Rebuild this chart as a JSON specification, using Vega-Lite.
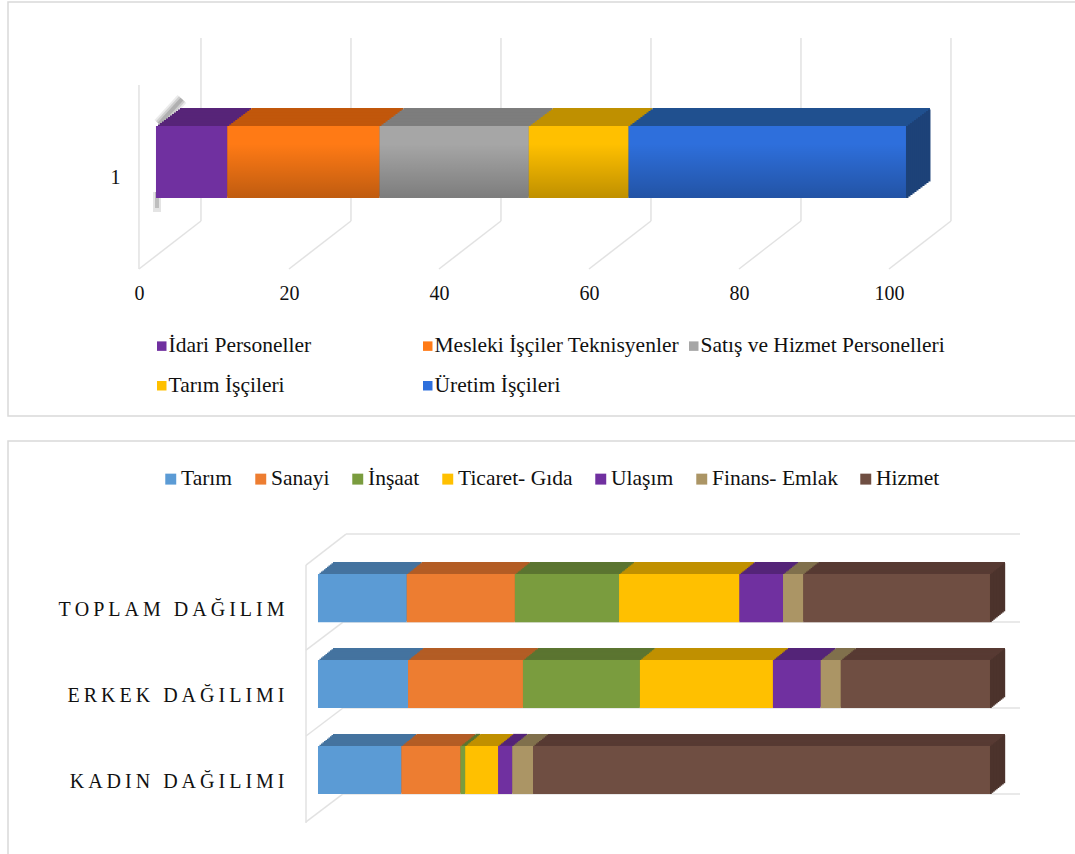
{"$schema":"https://vega.github.io/schema/vega-lite/v6.json","padding":{"left":7,"top":1,"right":0,"bottom":0},"spacing":23,"background":"white","resolve":{"scale":{"color":"independent","fill":"independent"},"legend":{"color":"independent"}},"config":{"view":{"stroke":"#d9d9d9","strokeWidth":1.5},"font":"Liberation Serif","axis":{"labelFont":"Liberation Serif","labelColor":"#111","domain":false,"ticks":false,"grid":false,"title":null}},
"datasets":{"t1":[{"tick":0},{"tick":20},{"tick":40},{"tick":60},{"tick":80},{"tick":100}],
"d1":[{"cat":"1","sector":"İdari Personeller","value":9.5},{"cat":"1","sector":"Mesleki İşçiler Teknisyenler","value":20.3},{"cat":"1","sector":"Satış ve Hizmet Personelleri","value":19.9},{"cat":"1","sector":"Tarım İşçileri","value":13.3},{"cat":"1","sector":"Üretim İşçileri","value":37.0}],
"d2":[{"g":"TOPLAM DAĞILIM","sector":"Tarım","value":13.2},{"g":"TOPLAM DAĞILIM","sector":"Sanayi","value":16.1},{"g":"TOPLAM DAĞILIM","sector":"İnşaat","value":15.5},{"g":"TOPLAM DAĞILIM","sector":"Ticaret- Gıda","value":17.9},{"g":"TOPLAM DAĞILIM","sector":"Ulaşım","value":6.5},{"g":"TOPLAM DAĞILIM","sector":"Finans- Emlak","value":3.0},{"g":"TOPLAM DAĞILIM","sector":"Hizmet","value":27.8},
{"g":"ERKEK DAĞILIMI","sector":"Tarım","value":13.4},{"g":"ERKEK DAĞILIMI","sector":"Sanayi","value":17.1},{"g":"ERKEK DAĞILIMI","sector":"İnşaat","value":17.4},{"g":"ERKEK DAĞILIMI","sector":"Ticaret- Gıda","value":19.8},{"g":"ERKEK DAĞILIMI","sector":"Ulaşım","value":7.1},{"g":"ERKEK DAĞILIMI","sector":"Finans- Emlak","value":3.0},{"g":"ERKEK DAĞILIMI","sector":"Hizmet","value":22.2},
{"g":"KADIN DAĞILIMI","sector":"Tarım","value":12.4},{"g":"KADIN DAĞILIMI","sector":"Sanayi","value":8.8},{"g":"KADIN DAĞILIMI","sector":"İnşaat","value":0.7},{"g":"KADIN DAĞILIMI","sector":"Ticaret- Gıda","value":4.9},{"g":"KADIN DAĞILIMI","sector":"Ulaşım","value":2.1},{"g":"KADIN DAĞILIMI","sector":"Finans- Emlak","value":3.1},{"g":"KADIN DAĞILIMI","sector":"Hizmet","value":68.0}]},
"vconcat":[
{"width":1068,"height":414,"data":{"name":"d1"},"transform":[{"stack":"value","groupby":["cat"],"as":["s","e"]}],
"encoding":{"x":{"field":"s","type":"quantitative","scale":{"domain":[-19.73,122.67],"nice":false,"zero":false},"axis":{"values":[0,20,40,60,80,100],"labelOffset":-17,"offset":-133,"labelFontSize":20,"labelPadding":0,"labelBaseline":"top"}},"x2":{"field":"e"},"y":{"field":"cat","type":"nominal","scale":{"paddingInner":0,"paddingOuter":0,"range":[124,196]},"axis":{"labelFontSize":20,"offset":-112,"labelPadding":0,"labelOffset":16,"labelAngle":0}}},
"layer":[
{"data":{"name":"t1"},"transform":[],"encoding":{"x":{"field":"tick","type":"quantitative"},"x2":{"field":"tick"},"y":{"datum":"1","type":"nominal"},"y2":{"datum":"1"}},"layer":[
{"mark":{"type":"rule","color":"#e2e2e2","strokeWidth":1.5,"xOffset":-17,"x2Offset":45,"yOffset":107,"y2Offset":59}},
{"mark":{"type":"rule","color":"#e2e2e2","strokeWidth":1.5,"xOffset":45,"x2Offset":45,"yOffset":-124,"y2Offset":59}}]},
{"data":{"name":"t1"},"transform":[{"filter":"datum.tick===0"}],"encoding":{"x":{"field":"tick","type":"quantitative"},"x2":{"field":"tick"},"y":{"datum":"1","type":"nominal"},"y2":{"datum":"1"}},"layer":[
{"mark":{"type":"rule","color":"#e2e2e2","strokeWidth":1.5,"xOffset":-17,"x2Offset":-17,"yOffset":-77,"y2Offset":107}},
{"mark":{"type":"rule","color":"#777777","opacity":0.15,"strokeWidth":12,"xOffset":3,"x2Offset":26,"yOffset":-38,"y2Offset":-63}},
{"mark":{"type":"rule","color":"#777777","opacity":0.25,"strokeWidth":8,"xOffset":3,"x2Offset":26,"yOffset":-38,"y2Offset":-63}},
{"mark":{"type":"rule","color":"#777777","opacity":0.35,"strokeWidth":4,"xOffset":3,"x2Offset":26,"yOffset":-38,"y2Offset":-63}},
{"mark":{"type":"rule","color":"#777777","opacity":0.2,"strokeWidth":8,"xOffset":1,"x2Offset":1,"yOffset":30,"y2Offset":50}},
{"mark":{"type":"rule","color":"#777777","opacity":0.35,"strokeWidth":4,"xOffset":1,"x2Offset":1,"yOffset":30,"y2Offset":46}}]},
{"encoding":{"fill":{"field":"sector","type":"nominal","scale":{"domain":["Üretim İşçileri","Tarım İşçileri","Satış ve Hizmet Personelleri","Mesleki İşçiler Teknisyenler","İdari Personeller"],"range":["#20508f","#bf9000","#7d7d7d","#c1570b","#572478"]},"legend":null}},"layer":[
{"mark":{"type":"bar","xOffset":24,"x2Offset":24,"yOffset":-18}},{"mark":{"type":"bar","xOffset":22,"x2Offset":22,"yOffset":-16.5}},{"mark":{"type":"bar","xOffset":20,"x2Offset":20,"yOffset":-15}},{"mark":{"type":"bar","xOffset":18,"x2Offset":18,"yOffset":-13.5}},{"mark":{"type":"bar","xOffset":16,"x2Offset":16,"yOffset":-12}},{"mark":{"type":"bar","xOffset":14,"x2Offset":14,"yOffset":-10.5}},{"mark":{"type":"bar","xOffset":12,"x2Offset":12,"yOffset":-9}},{"mark":{"type":"bar","xOffset":10,"x2Offset":10,"yOffset":-7.5}},{"mark":{"type":"bar","xOffset":8,"x2Offset":8,"yOffset":-6}},{"mark":{"type":"bar","xOffset":6,"x2Offset":6,"yOffset":-4.5}},{"mark":{"type":"bar","xOffset":4,"x2Offset":4,"yOffset":-3}},{"mark":{"type":"bar","xOffset":2,"x2Offset":2,"yOffset":-1.5}}]},
{"transform":[{"filter":"datum.sector==='Üretim İşçileri'"}],"encoding":{"x":{"field":"e","type":"quantitative"},"x2":{"field":"e"}},"layer":[
{"mark":{"type":"bar","color":"#1d4278","xOffset":22,"x2Offset":24.5,"yOffset":-16.5}},{"mark":{"type":"bar","color":"#1d4278","xOffset":20,"x2Offset":22.5,"yOffset":-15}},{"mark":{"type":"bar","color":"#1d4278","xOffset":18,"x2Offset":20.5,"yOffset":-13.5}},{"mark":{"type":"bar","color":"#1d4278","xOffset":16,"x2Offset":18.5,"yOffset":-12}},{"mark":{"type":"bar","color":"#1d4278","xOffset":14,"x2Offset":16.5,"yOffset":-10.5}},{"mark":{"type":"bar","color":"#1d4278","xOffset":12,"x2Offset":14.5,"yOffset":-9}},{"mark":{"type":"bar","color":"#1d4278","xOffset":10,"x2Offset":12.5,"yOffset":-7.5}},{"mark":{"type":"bar","color":"#1d4278","xOffset":8,"x2Offset":10.5,"yOffset":-6}},{"mark":{"type":"bar","color":"#1d4278","xOffset":6,"x2Offset":8.5,"yOffset":-4.5}},{"mark":{"type":"bar","color":"#1d4278","xOffset":4,"x2Offset":6.5,"yOffset":-3}},{"mark":{"type":"bar","color":"#1d4278","xOffset":2,"x2Offset":4.5,"yOffset":-1.5}},{"mark":{"type":"bar","color":"#1d4278","xOffset":0,"x2Offset":2.5,"yOffset":0}}]},
{"mark":{"type":"bar"},"encoding":{"color":{"field":"sector","type":"nominal","scale":{"domain":["İdari Personeller","Mesleki İşçiler Teknisyenler","Satış ve Hizmet Personelleri","Tarım İşçileri","Üretim İşçileri"],"range":["#7030a0","#ff7a15","#a6a6a6","#ffc000","#2e6fdc"]},"legend":{"orient":"none","legendX":143,"legendY":333,"direction":"horizontal","columns":3,"gridAlign":"all","title":null,"symbolType":"square","symbolSize":90,"symbolStrokeWidth":0,"labelFont":"Liberation Serif","labelFontSize":21.5,"labelColor":"#111","rowPadding":17,"columnPadding":4,"labelOffset":-4,"labelLimit":400}}}},
{"transform":[{"filter":"datum.sector!=='İdari Personeller'"}],"mark":{"type":"bar","fill":{"gradient":"linear","x1":0,"y1":0,"x2":0,"y2":1,"stops":[{"offset":0,"color":"rgba(0,0,0,0)"},{"offset":0.25,"color":"rgba(0,0,0,0)"},{"offset":1,"color":"rgba(0,0,0,0.25)"}]}}}
]},
{"width":1068,"height":424,"data":{"name":"d2"},"transform":[{"stack":"value","groupby":["g"],"as":["s","e"]}],
"encoding":{"x":{"field":"s","type":"quantitative","scale":{"domain":[-46.13,112.8],"nice":false,"zero":false},"axis":null},"x2":{"field":"e"},"y":{"field":"g","type":"nominal","sort":["TOPLAM DAĞILIM","ERKEK DAĞILIMI","KADIN DAĞILIMI"],"scale":{"paddingInner":0.44,"paddingOuter":0,"range":[133,353]},"axis":{"labelFontSize":20,"offset":-276,"labelPadding":0,"labelOffset":12,"labelAngle":0,"labelLimit":400,"labelExpr":"join(split(datum.label,''),'\u2009')"}}},
"layer":[
{"transform":[{"filter":"datum.g==='TOPLAM DAĞILIM' && datum.sector==='Tarım'"}],"encoding":{"x":{"datum":0,"type":"quantitative"},"x2":{"datum":0},"y2":{"field":"g"}},"layer":[
{"mark":{"type":"rule","color":"#e2e2e2","strokeWidth":1.5,"xOffset":-12,"x2Offset":28,"yOffset":-33,"y2Offset":-64}},
{"mark":{"type":"rule","color":"#e2e2e2","strokeWidth":1.5,"xOffset":28,"x2Offset":702,"yOffset":-64,"y2Offset":-64}},
{"mark":{"type":"rule","color":"#e2e2e2","strokeWidth":1.5,"xOffset":-12,"x2Offset":-12,"yOffset":-33,"y2Offset":225}}]},
{"transform":[{"filter":"datum.sector==='Tarım'"}],"encoding":{"x":{"datum":0,"type":"quantitative"},"x2":{"datum":0},"y2":{"field":"g"}},"layer":[
{"mark":{"type":"rule","color":"#e2e2e2","strokeWidth":1.5,"xOffset":25,"x2Offset":702,"yOffset":24,"y2Offset":24}},
{"mark":{"type":"rule","color":"#e2e2e2","strokeWidth":1.5,"xOffset":-12,"x2Offset":25,"yOffset":52,"y2Offset":24}}]},
{"encoding":{"fill":{"field":"sector","type":"nominal","scale":{"domain":["Hizmet","Finans- Emlak","Ulaşım","Ticaret- Gıda","İnşaat","Sanayi","Tarım"],"range":["#573a33","#80704c","#542478","#c09000","#5b7530","#b35d25","#44739f"]},"legend":null}},"layer":[
{"mark":{"type":"bar","xOffset":15,"x2Offset":15,"yOffset":-12}},{"mark":{"type":"bar","xOffset":13.5,"x2Offset":13.5,"yOffset":-10.8}},{"mark":{"type":"bar","xOffset":12,"x2Offset":12,"yOffset":-9.6}},{"mark":{"type":"bar","xOffset":10.5,"x2Offset":10.5,"yOffset":-8.4}},{"mark":{"type":"bar","xOffset":9,"x2Offset":9,"yOffset":-7.2}},{"mark":{"type":"bar","xOffset":7.5,"x2Offset":7.5,"yOffset":-6}},{"mark":{"type":"bar","xOffset":6,"x2Offset":6,"yOffset":-4.8}},{"mark":{"type":"bar","xOffset":4.5,"x2Offset":4.5,"yOffset":-3.6}},{"mark":{"type":"bar","xOffset":3,"x2Offset":3,"yOffset":-2.4}},{"mark":{"type":"bar","xOffset":1.5,"x2Offset":1.5,"yOffset":-1.2}}]},
{"transform":[{"filter":"datum.sector==='Hizmet'"}],"encoding":{"x":{"field":"e","type":"quantitative"},"x2":{"field":"e"}},"layer":[
{"mark":{"type":"bar","color":"#4c332c","xOffset":13.5,"x2Offset":15.2,"yOffset":-10.8}},{"mark":{"type":"bar","color":"#4c332c","xOffset":12,"x2Offset":13.8,"yOffset":-9.6}},{"mark":{"type":"bar","color":"#4c332c","xOffset":10.5,"x2Offset":12.3,"yOffset":-8.4}},{"mark":{"type":"bar","color":"#4c332c","xOffset":9,"x2Offset":10.8,"yOffset":-7.2}},{"mark":{"type":"bar","color":"#4c332c","xOffset":7.5,"x2Offset":9.3,"yOffset":-6}},{"mark":{"type":"bar","color":"#4c332c","xOffset":6,"x2Offset":7.8,"yOffset":-4.8}},{"mark":{"type":"bar","color":"#4c332c","xOffset":4.5,"x2Offset":6.3,"yOffset":-3.6}},{"mark":{"type":"bar","color":"#4c332c","xOffset":3,"x2Offset":4.8,"yOffset":-2.4}},{"mark":{"type":"bar","color":"#4c332c","xOffset":1.5,"x2Offset":3.3,"yOffset":-1.2}},{"mark":{"type":"bar","color":"#4c332c","xOffset":0,"x2Offset":1.8,"yOffset":0}}]},
{"mark":{"type":"bar"},"encoding":{"color":{"field":"sector","type":"nominal","scale":{"domain":["Tarım","Sanayi","İnşaat","Ticaret- Gıda","Ulaşım","Finans- Emlak","Hizmet"],"range":["#5b9bd5","#ed7d31","#7a9c3e","#ffc000","#7030a0","#ab9565","#6f4e42"]},"legend":{"orient":"none","legendX":152,"legendY":27,"direction":"horizontal","columns":7,"title":null,"symbolType":"square","symbolSize":120,"symbolStrokeWidth":0,"labelFont":"Liberation Serif","labelFontSize":21.5,"labelColor":"#111","columnPadding":17,"labelOffset":-0.5,"labelLimit":300}}}}
]}
]}
